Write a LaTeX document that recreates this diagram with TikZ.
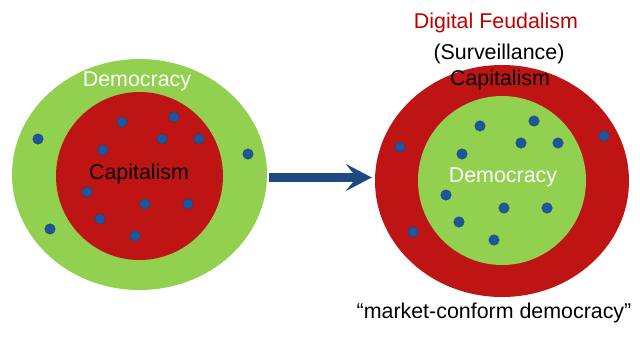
\documentclass[tikz,border=0pt]{standalone}
\usepackage{fontspec}
\setmainfont{Liberation Sans}
\usetikzlibrary{shapes.geometric,arrows.meta}
\definecolor{dgreen}{RGB}{146,208,80}
\definecolor{dred}{RGB}{190,20,20}
\definecolor{dblue}{RGB}{30,85,155}
\definecolor{arrblue}{RGB}{31,73,130}
\definecolor{tred}{RGB}{192,0,0}
\tikzset{
  blob/.style={ellipse,draw=none,inner sep=0pt},
  dot/.style={circle,fill=dblue,draw=dblue!80!black,line width=0.4pt,inner sep=0pt,minimum size=10.5pt},
  lbl/.style={font=\fontsize{21.4}{24}\selectfont,inner sep=0pt},
  bigarrow/.style={draw=arrblue,line width=9pt,-{Stealth[length=26pt,width=27pt,inset=11pt]}}
}
\begin{document}
\begin{tikzpicture}[x=1pt,y=-1pt]
\useasboundingbox (0,0) rectangle (640,341);
% left diagram
\node[blob,fill=dgreen,minimum width=255pt,minimum height=231pt] (lo) at (139.5,174.5) {};
\node[blob,fill=dred,minimum width=167pt,minimum height=168pt] (li) at (139.5,176) {};
\node[lbl,text=white] (ldem) at (137,81) {Democracy};
\node[lbl,text=black] (lcap) at (139,174) {Capitalism};
\foreach \x/\y [count=\i] in {38/139,122/122,174/117,162/139,199/139,103/150,248/154,87/192,145/204,188/204,100/219,50/229,135/236}
  \node[dot] (ld\i) at (\x,\y) {};
% right diagram
\node[blob,fill=dred,minimum width=254pt,minimum height=232pt] (ro) at (502,181) {};
\node[blob,fill=dgreen,minimum width=168pt,minimum height=169pt] (ri) at (502,180.5) {};
\node[lbl,text=tred] (rdf) at (496,23) {Digital Feudalism};
\node[lbl,text=black] (rsur) at (499,54) {(Surveillance)};
\node[lbl,text=black] (rcap) at (500,80) {Capitalism};
\node[lbl,text=white] (rdem) at (503,177) {Democracy};
\node[lbl,text=black] (rmcd) at (494,313) {“market-conform democracy”};
\foreach \x/\y [count=\i] in {480/126,534/121,521/143,558/143,462/154,400/147,604/136,446/195,504/208,547/208,459/222,413/232,494/240}
  \node[dot] (rd\i) at (\x,\y) {};
% arrow
\draw[bigarrow,shorten <=2pt,shorten >=3pt] (lo.east |- 0,177.5) -- (ro.west |- 0,177.5);
\end{tikzpicture}
\end{document}
